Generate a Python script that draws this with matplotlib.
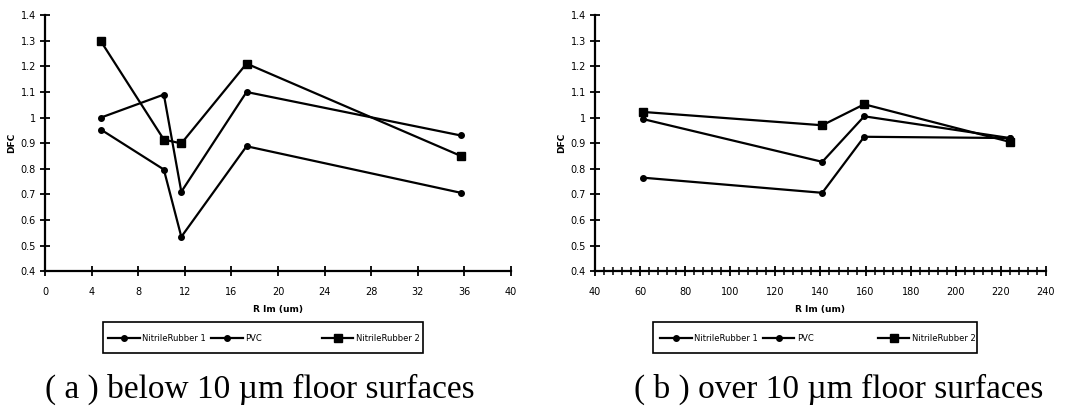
import matplotlib
matplotlib.use('Agg')
import matplotlib.pyplot as plt
from matplotlib.patches import Rectangle
from matplotlib.ticker import MultipleLocator, FuncFormatter

# (a) below 10 um floor surfaces
rim_a = [4.8, 10.2, 11.7, 17.3, 35.7]
nitrile1_a = [1.00, 1.09, 0.71, 1.10, 0.93]
pvc_a = [0.953, 0.797, 0.534, 0.888, 0.706]
nitrile2_a = [1.298, 0.914, 0.899, 1.211, 0.85]

# (b) over 10 um floor surfaces
rim_b = [61.4, 140.8, 159.4, 224]
nitrile1_b = [0.994, 0.827, 1.005, 0.92]
pvc_b = [0.765, 0.706, 0.925, 0.92]
nitrile2_b = [1.022, 0.97, 1.052, 0.905]

series_labels = ['NitrileRubber 1', 'PVC', 'NitrileRubber 2']
captions = ['( a ) below 10 \u00b5m floor surfaces', '( b ) over 10 \u00b5m floor surfaces']

fig = plt.figure(figsize=(10.67, 4.12), dpi=100)
ax_a = fig.add_axes([0.0422, 0.342, 0.4367, 0.621])
ax_b = fig.add_axes([0.5576, 0.342, 0.4227, 0.621])


def general_fmt(v, pos):
    # Excel style "General" number format
    s = ('%.1f' % v)
    if s.endswith('.0'):
        s = s[:-2]
    return s


def draw(ax, x, ys, xlim, xmajor, xminor, caption, cap_x, frame_x, leg_x):
    lines = []
    markers = ['o', 'o', 's']
    sizes = [4, 4, 6]
    for y, m, ms, lab in zip(ys, markers, sizes, series_labels):
        l, = ax.plot(x, y, color='black', lw=1.6, marker=m, ms=ms, label=lab)
        lines.append(l)
    ax.set_xlim(*xlim)
    ax.set_ylim(0.4, 1.4)
    ax.xaxis.set_major_locator(MultipleLocator(xmajor))
    if xminor:
        ax.xaxis.set_minor_locator(MultipleLocator(xminor))
    ax.yaxis.set_major_locator(MultipleLocator(0.1))
    ax.yaxis.set_major_formatter(FuncFormatter(general_fmt))
    for s in ['top', 'right']:
        ax.spines[s].set_visible(False)
    for s in ['left', 'bottom']:
        ax.spines[s].set_linewidth(1.6)
        ax.spines[s].set_clip_on(False)
    ax.tick_params(which='major', direction='inout', length=7, width=1.3, labelsize=7)
    ax.tick_params(axis='x', which='major', pad=8)
    ax.tick_params(axis='y', which='major', pad=3)
    ax.tick_params(which='minor', direction='inout', length=6, width=1.1)
    ax.set_ylabel('DFC', fontsize=6.5, fontweight='bold', labelpad=3)
    ax.set_xlabel('R Im (um)', fontsize=6.5, fontweight='bold', labelpad=6)

    # legend: two groups inside one hand drawn frame (Excel-like spacing)
    kw = dict(frameon=False, fontsize=6, handlelength=3.8, handletextpad=0.3,
              columnspacing=0.6, borderpad=0, borderaxespad=0, loc='center left')
    leg1 = ax.legend(handles=lines[:2], ncol=2, bbox_to_anchor=(leg_x[0], -0.262), **kw)
    ax.add_artist(leg1)
    ax.legend(handles=lines[2:], bbox_to_anchor=(leg_x[1], -0.262), **kw)
    ax.add_patch(Rectangle((frame_x[0], -0.321), frame_x[1] - frame_x[0], 0.121,
                           transform=ax.transAxes, clip_on=False, fill=False,
                           lw=1.2, edgecolor='black'))

    ax.text(cap_x, -0.496, caption, transform=ax.transAxes, ha='center', va='baseline',
            fontsize=24, family='Liberation Serif')


draw(ax_a, rim_a, [nitrile1_a, pvc_a, nitrile2_a], (0, 40), 4, None, captions[0],
     0.46, (0.124, 0.811), (0.135, 0.594))
draw(ax_b, rim_b, [nitrile1_b, pvc_b, nitrile2_b], (40, 240), 20, 4, captions[1],
     0.54, (0.129, 0.847), (0.144, 0.627))

fig.savefig('out.png', dpi=100)
